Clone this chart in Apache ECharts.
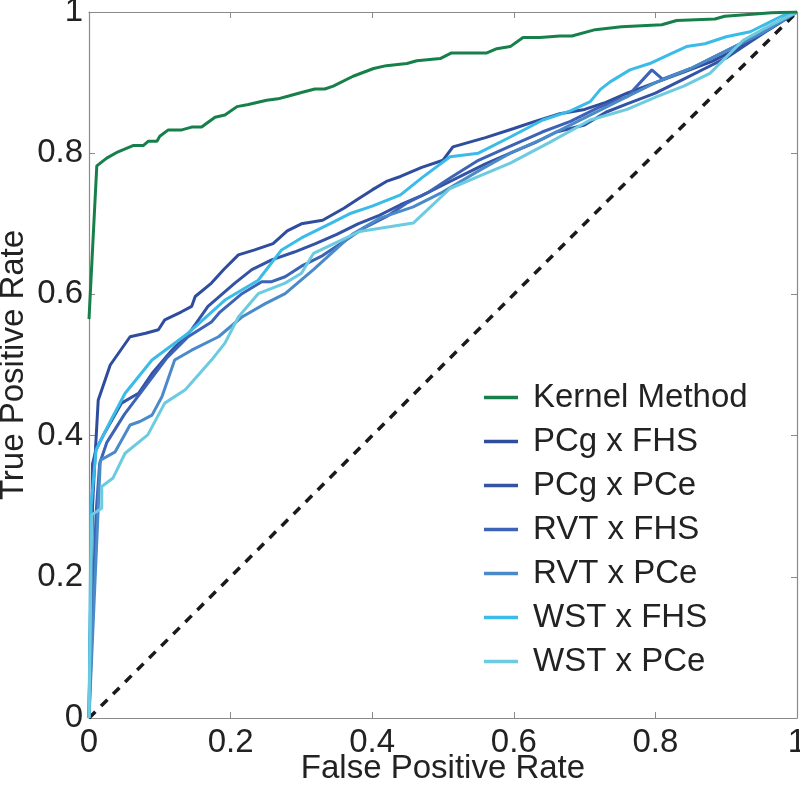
<!DOCTYPE html>
<html>
<head>
<meta charset="utf-8">
<script src="https://cdn.jsdelivr.net/npm/echarts@6/dist/echarts.min.js"></script>
<style>
html,body{margin:0;padding:0;background:#fff;}
#c{width:800px;height:786px;}
</style>
</head>
<body>
<div id="c"></div>
<script>
// Tick labels
const tickValues = [0, 0.2, 0.4, 0.6, 0.8, 1];

// Series names and colours
const seriesNames = ['Kernel Method', 'PCg x FHS', 'PCg x PCe', 'RVT x FHS', 'RVT x PCe', 'WST x FHS', 'WST x PCe'];
const seriesColors = ['#17804a', '#2f4d9f', '#3553a5', '#3c63b6', '#4a8ac9', '#3bbbe8', '#6ccbe0'];

// [False Positive Rate, True Positive Rate]
const kernelMethod = [
  [0,0.565],[0.011,0.782],[0.025,0.793],[0.041,0.802],[0.063,0.811],[0.077,0.811],[0.084,0.817],[0.096,0.817],
  [0.100,0.824],[0.112,0.833],[0.131,0.833],[0.145,0.837],[0.159,0.837],[0.178,0.851],[0.192,0.854],[0.209,0.866],
  [0.225,0.869],[0.251,0.875],[0.267,0.877],[0.282,0.881],[0.300,0.886],[0.319,0.891],[0.333,0.891],[0.345,0.895],
  [0.373,0.909],[0.402,0.920],[0.420,0.924],[0.449,0.927],[0.463,0.931],[0.496,0.934],[0.512,0.942],[0.562,0.942],
  [0.576,0.948],[0.595,0.951],[0.613,0.964],[0.637,0.964],[0.665,0.966],[0.682,0.966],[0.715,0.975],[0.752,0.979],
  [0.809,0.982],[0.830,0.988],[0.884,0.990],[0.898,0.994],[0.941,0.997],[0.964,0.999],[1,1]
];
const pcgFhs = [
  [0,0],[0.005,0.30],[0.008,0.36],[0.013,0.45],[0.03,0.50],[0.058,0.54],[0.08,0.545],[0.098,0.55],[0.107,0.564],
  [0.13,0.575],[0.145,0.583],[0.15,0.597],[0.173,0.616],[0.19,0.635],[0.211,0.656],[0.234,0.663],[0.26,0.672],
  [0.28,0.69],[0.30,0.70],[0.33,0.705],[0.36,0.722],[0.38,0.735],[0.40,0.748],[0.42,0.76],[0.44,0.767],[0.47,0.78],
  [0.50,0.79],[0.514,0.809],[0.56,0.822],[0.60,0.835],[0.63,0.845],[0.665,0.856],[0.70,0.862],[0.73,0.872],
  [0.76,0.885],[0.80,0.90],[0.84,0.915],[0.88,0.93],[0.92,0.95],[0.95,0.97],[0.98,0.99],[1,1]
];
const pcgPce = [
  [0,0],[0.005,0.36],[0.01,0.38],[0.02,0.40],[0.046,0.446],[0.07,0.46],[0.089,0.488],[0.117,0.521],[0.145,0.55],
  [0.168,0.583],[0.206,0.616],[0.23,0.635],[0.258,0.649],[0.29,0.66],[0.32,0.672],[0.35,0.685],[0.38,0.70],
  [0.41,0.712],[0.44,0.727],[0.47,0.74],[0.50,0.755],[0.53,0.77],[0.56,0.785],[0.595,0.80],[0.63,0.815],[0.66,0.83],
  [0.70,0.84],[0.73,0.858],[0.76,0.87],[0.80,0.885],[0.84,0.905],[0.87,0.92],[0.90,0.935],[0.93,0.955],[0.96,0.975],[1,1]
];
const rvtFhs = [
  [0,0],[0.01,0.29],[0.015,0.36],[0.025,0.39],[0.05,0.43],[0.08,0.47],[0.11,0.51],[0.14,0.54],[0.173,0.561],
  [0.185,0.575],[0.216,0.601],[0.244,0.618],[0.258,0.618],[0.277,0.625],[0.30,0.64],[0.33,0.655],[0.36,0.675],
  [0.39,0.695],[0.42,0.71],[0.45,0.73],[0.48,0.745],[0.51,0.765],[0.55,0.79],[0.595,0.81],[0.64,0.83],[0.68,0.845],
  [0.72,0.865],[0.76,0.88],[0.795,0.918],[0.81,0.905],[0.85,0.92],[0.89,0.94],[0.93,0.96],[0.96,0.975],[1,1]
];
const rvtPce = [
  [0,0],[0.016,0.365],[0.037,0.377],[0.058,0.415],[0.072,0.42],[0.089,0.429],[0.103,0.455],[0.121,0.507],
  [0.145,0.521],[0.183,0.540],[0.216,0.568],[0.249,0.587],[0.277,0.601],[0.317,0.635],[0.373,0.686],[0.411,0.708],
  [0.458,0.724],[0.496,0.743],[0.552,0.776],[0.595,0.80],[0.64,0.82],[0.70,0.85],[0.76,0.88],[0.80,0.90],
  [0.85,0.92],[0.90,0.945],[0.95,0.97],[1,1]
];
const wstFhs = [
  [0,0],[0.003,0.30],[0.01,0.38],[0.03,0.42],[0.051,0.46],[0.089,0.507],[0.14,0.545],[0.192,0.592],[0.239,0.620],
  [0.272,0.663],[0.30,0.68],[0.34,0.70],[0.37,0.715],[0.40,0.725],[0.44,0.741],[0.47,0.765],[0.51,0.795],[0.55,0.80],
  [0.595,0.823],[0.641,0.847],[0.68,0.86],[0.708,0.873],[0.722,0.89],[0.736,0.901],[0.764,0.918],[0.792,0.927],
  [0.82,0.94],[0.844,0.951],[0.87,0.955],[0.90,0.965],[0.934,0.972],[0.96,0.985],[0.98,0.995],[1,1]
];
const wstPce = [
  [0,0],[0.004,0.288],[0.018,0.297],[0.018,0.328],[0.034,0.34],[0.051,0.375],[0.083,0.401],[0.107,0.446],
  [0.136,0.465],[0.173,0.507],[0.192,0.531],[0.211,0.568],[0.239,0.601],[0.277,0.616],[0.30,0.63],[0.317,0.658],
  [0.382,0.689],[0.458,0.701],[0.51,0.75],[0.552,0.768],[0.595,0.786],[0.65,0.815],[0.708,0.847],[0.76,0.862],
  [0.802,0.88],[0.84,0.895],[0.877,0.913],[0.924,0.96],[0.96,0.98],[1,1]
];
const chanceLine = [[0,0],[1,1]];

const seriesData = [kernelMethod, pcgFhs, pcgPce, rvtFhs, rvtPce, wstFhs, wstPce];

const chart = echarts.init(document.getElementById('c'), null, {renderer: 'canvas'});
const FONT = 'Liberation Sans, Arial, Helvetica, sans-serif';
const FS = 33;
const axisCommon = {
  type: 'value', min: 0, max: 1, interval: 0.2,
  axisLine: {show: true, onZero: false, lineStyle: {color: '#8a8a8a', width: 1.2}},
  axisTick: {show: true, inside: true, length: 6, lineStyle: {color: '#8a8a8a', width: 1}},
  splitLine: {show: false}
};
const series = [{
  name: 'chance', type: 'line', data: chanceLine, symbol: 'none', silent: true,
  lineStyle: {color: '#1a1a1a', width: 3.5, type: [9, 8]}, z: 1
}];
seriesNames.forEach((n, i) => {
  series.push({
    name: n, type: 'line', data: seriesData[i], symbol: 'none',
    lineStyle: {color: seriesColors[i], width: 3}, itemStyle: {color: seriesColors[i]},
    z: i === 0 ? 3 : 2
  });
});
chart.setOption({
  animation: false,
  backgroundColor: '#fff',
  grid: {left: 89, right: 3, top: 12, bottom: 68, containLabel: false, outerBoundsMode: 'none'},
  legend: {
    data: seriesNames, orient: 'vertical', left: 479, top: 376,
    icon: 'rect', itemWidth: 34, itemHeight: 3.5, itemGap: 11,
    textStyle: {fontSize: FS, color: '#222', fontFamily: FONT, padding: [0, 0, 0, 10]}
  },
  xAxis: [
    Object.assign({}, axisCommon, {
      position: 'bottom', name: 'False Positive Rate', nameLocation: 'middle', nameGap: 34,
      nameMoveOverlap: false,
      nameTextStyle: {fontSize: FS, color: '#222', fontFamily: FONT},
      axisLabel: {fontSize: FS, color: '#222', fontFamily: FONT, margin: 8}
    }),
    Object.assign({}, axisCommon, {position: 'top', axisLabel: {show: false}})
  ],
  yAxis: [
    Object.assign({}, axisCommon, {
      position: 'left', name: 'True Positive Rate', nameLocation: 'middle', nameGap: 59,
      nameMoveOverlap: false,
      nameTextStyle: {fontSize: FS, color: '#222', fontFamily: FONT},
      axisLabel: {fontSize: FS, color: '#222', fontFamily: FONT, margin: 6}
    }),
    Object.assign({}, axisCommon, {position: 'right', axisLabel: {show: false}})
  ],
  series: series
});
</script>
</body>
</html>
